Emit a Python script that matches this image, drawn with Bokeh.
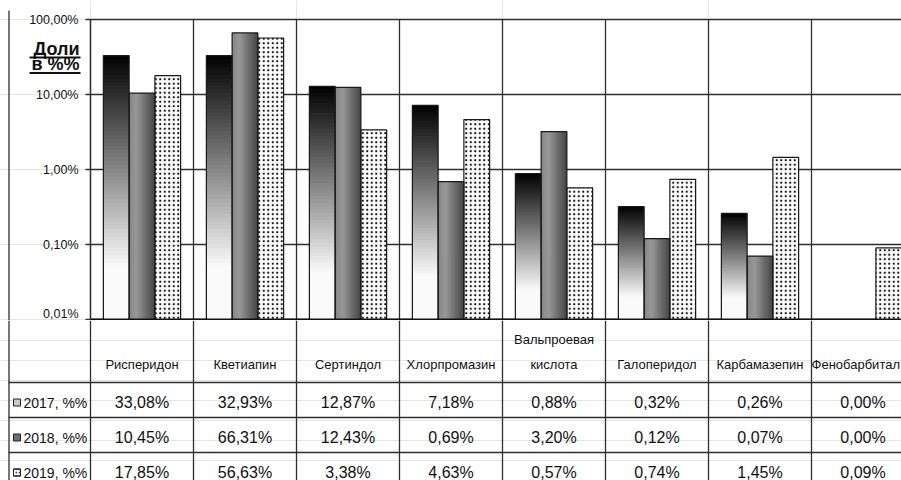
import numpy as np
from bokeh.plotting import figure
from bokeh.models import Range1d, LogAxis, FixedTicker, CustomJSTickFormatter
from bokeh.layouts import column
from bokeh.embed import file_html
from bokeh.resources import INLINE
from bokeh.core.properties import value

# ---------------- data ----------------
categories = ["Рисперидон", "Кветиапин", "Сертиндол", "Хлорпромазин",
              "Вальпроевая кислота", "Галоперидол", "Карбамазепин", "Фенобарбитал"]
series_labels = ["2017, %%", "2018, %%", "2019, %%"]
v2017 = [33.08, 32.93, 12.87, 7.18, 0.88, 0.32, 0.26, 0.00]
v2018 = [10.45, 66.31, 12.43, 0.69, 3.20, 0.12, 0.07, 0.00]
v2019 = [17.85, 56.63, 3.38, 4.63, 0.57, 0.74, 1.45, 0.09]
y_ticks = [0.01, 0.1, 1, 10, 100]
axis_title = ["Доли", "в %%"]

# ---------------- layout constants ----------------
W = 901
CAT_PX = 103.0
LEFT_PX = 90.0
X0 = -LEFT_PX / CAT_PX
X1 = (W - LEFT_PX) / CAT_PX
DEC_PX = 75.0
TOP_PX = 19.0
BOT_PX = 1.0
PLOT_H = int(TOP_PX + 4 * DEC_PX + BOT_PX)
Y_END = 10 ** (2 + TOP_PX / DEC_PX)
Y_START = 10 ** (-2 - BOT_PX / DEC_PX)
FONT = "Liberation Sans"
LINE = "#2e2e2e"

def py(page_y):
    """page pixel y (inside the plot) -> log data value"""
    return 10 ** (2 - (page_y - TOP_PX) / DEC_PX)

def px(page_x):
    return (page_x - LEFT_PX) / CAT_PX

p = figure(width=W, height=PLOT_H, x_range=Range1d(X0, X1),
           y_range=Range1d(Y_START, Y_END), y_axis_type="log",
           x_axis_location=None, y_axis_location=None,
           toolbar_location=None, output_backend="svg", min_border=0,
           outline_line_color=None, background_fill_color="white")

# grid lines
p.segment(x0=[0] * len(y_ticks), x1=[X1] * len(y_ticks), y0=y_ticks, y1=y_ticks,
          line_color=LINE, line_width=1.3)
ncat = len(categories)
p.segment(x0=list(range(ncat)), x1=list(range(ncat)), y0=[0.01] * ncat,
          y1=[100] * ncat, line_color=LINE, line_width=1.3)
p.segment(x0=[px(8.5)], x1=[px(8.5)], y0=[Y_START], y1=[py(10)],
          line_color=LINE, line_width=1.3)

BAR_W = 0.25
PAD = 0.125

# 2017: vertical gradient black (top) -> white
N = 70
q = dict(l=[], r=[], b=[], t=[], c=[])
for i, v in enumerate(v2017):
    if v <= 0:
        continue
    lt, lb = np.log10(v), -2.0
    left = i + PAD
    for j in range(N):
        a = lb + (lt - lb) * j / N
        b = lb + (lt - lb) * (j + 1.6) / N
        b = min(b, lt)
        f = 1 - (j + 0.5) / N
        g = int(round(250 * min(1.0, f / 0.8)))
        q["l"].append(left); q["r"].append(left + BAR_W)
        q["b"].append(10 ** a); q["t"].append(10 ** b)
        q["c"].append("#%02x%02x%02x" % (g, g, g))
p.quad(left=q["l"], right=q["r"], bottom=q["b"], top=q["t"], fill_color=q["c"],
       line_color=None)

# 2018: horizontal gradient
M = 18
stops = [(0.0, 0x86), (0.28, 0x98), (1.0, 0x44)]
def hgray(s):
    for (s0, g0), (s1, g1) in zip(stops[:-1], stops[1:]):
        if s <= s1:
            return g0 + (g1 - g0) * (s - s0) / (s1 - s0)
    return stops[-1][1]
q = dict(l=[], r=[], b=[], t=[], c=[])
for i, v in enumerate(v2018):
    if v <= 0:
        continue
    left = i + PAD + BAR_W
    for j in range(M):
        g = int(round(hgray((j + 0.5) / M)))
        q["l"].append(left + BAR_W * j / M)
        q["r"].append(min(left + BAR_W * (j + 1.5) / M, left + BAR_W))
        q["b"].append(0.01); q["t"].append(v)
        q["c"].append("#%02x%02x%02x" % (g, g, g))
p.quad(left=q["l"], right=q["r"], bottom=q["b"], top=q["t"], fill_color=q["c"],
       line_color=None)

# 2019: dotted
idx19 = [i for i, v in enumerate(v2019) if v > 0]
p.quad(left=[i + PAD + 2 * BAR_W for i in idx19],
       right=[i + PAD + 3 * BAR_W for i in idx19],
       bottom=[0.01] * len(idx19), top=[v2019[i] for i in idx19],
       fill_color="white", hatch_pattern="dot", hatch_color="#111",
       hatch_scale=4.5, hatch_weight=1.0, line_color=None)

# outlines
for k, vals in enumerate([v2017, v2018, v2019]):
    ids = [i for i, v in enumerate(vals) if v > 0]
    p.quad(left=[i + PAD + k * BAR_W for i in ids],
           right=[i + PAD + (k + 1) * BAR_W for i in ids],
           bottom=[0.01] * len(ids), top=[vals[i] for i in ids],
           fill_color=None, line_color="#1a1a1a", line_width=1.2)

# base line
p.segment(x0=[0], x1=[X1], y0=[0.01], y1=[0.01], line_color="#111", line_width=2.2)

ax = LogAxis(fixed_location=0, ticker=FixedTicker(ticks=y_ticks),
             formatter=CustomJSTickFormatter(code="return tick.toFixed(2).replace('.', ',') + '%';"),
             bounds=(0.01, 100))
ax.major_tick_out = 5
ax.major_tick_in = 0
ax.minor_tick_out = 0
ax.minor_tick_in = 0
ax.axis_line_color = LINE
ax.axis_line_width = 1.3
ax.major_tick_line_color = LINE
ax.major_tick_line_width = 1.3
ax.major_label_text_font = FONT
ax.major_label_text_font_size = "12.5px"
ax.major_label_text_color = "#111"
ax.major_label_standoff = 7
p.add_layout(ax, "left")

# axis title, bold underlined
p.text(x=[px(79)] * 2, y=[py(48.5), py(63.5)], text=axis_title, text_align="right",
       text_baseline="middle", text_font=value(FONT),
       text_font_style="bold", text_font_size="18px", text_color="#111")
p.segment(x0=[px(29)] * 2, x1=[px(80)] * 2, y0=[py(57), py(72.5)],
          y1=[py(57), py(72.5)], line_color="#111", line_width=2)

# ---------------- data table ----------------
TBL_H = 480 - PLOT_H
HEAD = 62
ROW = 35
t = figure(width=W, height=TBL_H, x_range=p.x_range, y_range=Range1d(TBL_H, 0),
           x_axis_location=None, y_axis_location=None, toolbar_location=None,
           output_backend="svg", min_border=0, outline_line_color=None)

rows_y = [HEAD + ROW * r for r in range(3)]
t.segment(x0=[px(8)] * 3, x1=[X1] * 3, y0=rows_y, y1=rows_y, line_color=LINE, line_width=1.3)
t.segment(x0=list(range(ncat)), x1=list(range(ncat)), y0=[0] * ncat, y1=[TBL_H] * ncat,
          line_color=LINE, line_width=1.3)
t.segment(x0=[px(8.5)], x1=[px(8.5)], y0=[0], y1=[TBL_H],
          line_color=LINE, line_width=1.3)

# category labels (the last one is right-aligned at the window edge so it is not cut)
lx, ly, lt_, la = [], [], [], []
for i, name in enumerate(categories):
    parts = name.split(" ")
    for k, part in enumerate(parts):
        if i + 1 > X1:
            lx.append(X1 - 1.5 / CAT_PX); la.append("right")
        else:
            lx.append(i + 0.5); la.append("center")
        ly.append(44 - 25 * (len(parts) - 1 - k))
        lt_.append(part)
t.text(x=lx, y=ly, text=lt_, text_align=la, text_baseline="middle",
       text_font=value(FONT), text_font_size="13px", text_color="#111")

# series rows
ROW_MID = 20
vx, vy, vt = [], [], []
for r, vals in enumerate([v2017, v2018, v2019]):
    for i, v in enumerate(vals):
        vx.append(i + 0.5)
        vy.append(rows_y[r] + ROW_MID)
        vt.append(("%.2f" % v).replace(".", ",") + "%")
t.text(x=vx, y=vy, text=vt, text_align="center", text_baseline="middle",
       text_font=value(FONT), text_font_size="16px", text_color="#111")

t.text(x=[px(23)] * 3, y=[ry + ROW_MID for ry in rows_y], text=series_labels,
       text_align="left", text_baseline="middle", text_font=value(FONT),
       text_font_size="14px", text_color="#111")

mk_y = [ry + ROW_MID for ry in rows_y]
t.rect(x=[px(16.5)] * 3, y=mk_y, width=7, height=7, width_units="screen",
       height_units="screen", fill_color=["#c8c8c8", "#707070", "white"],
       line_color="#222", line_width=1)
t.rect(x=[px(16.5)], y=[mk_y[2]], width=7, height=7, width_units="screen",
       height_units="screen", fill_color=None, hatch_pattern="dot",
       hatch_color="#111", hatch_scale=3.5, hatch_weight=1.0, line_color="#222")

layout = column(p, t, spacing=0)
open("out.html", "w").write(file_html(layout, INLINE))
